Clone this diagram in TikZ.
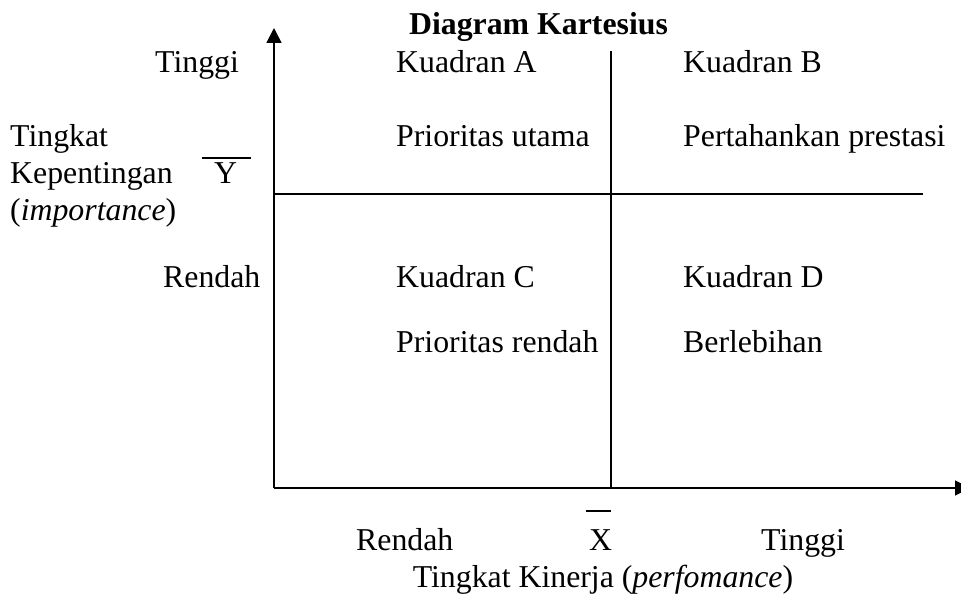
\documentclass[tikz,border=0pt]{standalone}
\usepackage{fontspec}
\setmainfont{Liberation Serif}
\usetikzlibrary{arrows.meta}
\begin{document}
\begin{tikzpicture}[x=1pt,y=-1pt,
  lbl/.style={anchor=base west, inner sep=0pt, font=\fontsize{31.8}{37}\selectfont},
  heading/.style={anchor=base, inner sep=0pt, font=\fontsize{31.8}{37}\selectfont\bfseries},
  axis/.style={line width=1.8pt, -{Triangle[length=15pt,width=15pt]}},
  divider/.style={line width=1.6pt},
  meanbar/.style={line width=1.6pt}]
\useasboundingbox (0,0) rectangle (961,594);

% title
\node[heading] (title) at (538.5,35) {Diagram Kartesius};

% axes
\coordinate (O) at (274,488);
\coordinate (ytop) at (274,28);
\coordinate (xend) at (970,488);
\draw[axis] (O) -- (ytop);
\draw[axis] (O) -- (xend);

% quadrant dividers
\coordinate (mtop) at (611,51);
\coordinate (mbot) at (611,488);
\coordinate (hleft) at (274,194);
\coordinate (hright) at (923,194);
\draw[divider] (mtop) -- (mbot);
\draw[divider] (hleft) -- (hright);

% vertical axis labels
\node[lbl] (yhi) at (155,73) {Tinggi};
\node[lbl] (ylab1) at (10,146) {Tingkat};
\node[lbl] (ylab2) at (10,183) {Kepentingan};
\node[lbl] (ylab3) at (10,220) {(\textit{importance})};
\node[lbl] (ymean) at (214,183) {Y};
\coordinate (ybarL) at (202,158);
\coordinate (ybarR) at (251,158);
\draw[meanbar] (ybarL) -- (ybarR);
\node[lbl] (ylo) at (163,287) {Rendah};

% quadrants
\node[lbl] (qa) at (396,73) {Kuadran A};
\node[lbl] (pa) at (396,146) {Prioritas utama};
\node[lbl] (qb) at (683,73) {Kuadran B};
\node[lbl] (pb) at (683,146) {Pertahankan prestasi};
\node[lbl] (qc) at (396,287) {Kuadran C};
\node[lbl] (pc) at (396,352) {Prioritas rendah};
\node[lbl] (qd) at (683,287) {Kuadran D};
\node[lbl] (pd) at (683,352) {Berlebihan};

% horizontal axis labels
\node[lbl] (xlo) at (356,550) {Rendah};
\node[lbl] (xmean) at (589,550) {X};
\coordinate (xbarL) at (586,511);
\coordinate (xbarR) at (611,511);
\draw[meanbar] (xbarL) -- (xbarR);
\node[lbl] (xhi) at (761,550) {Tinggi};
\node[lbl, anchor=base] (xlab) at (603,587) {Tingkat Kinerja (\textit{perfomance})};
\end{tikzpicture}
\end{document}
